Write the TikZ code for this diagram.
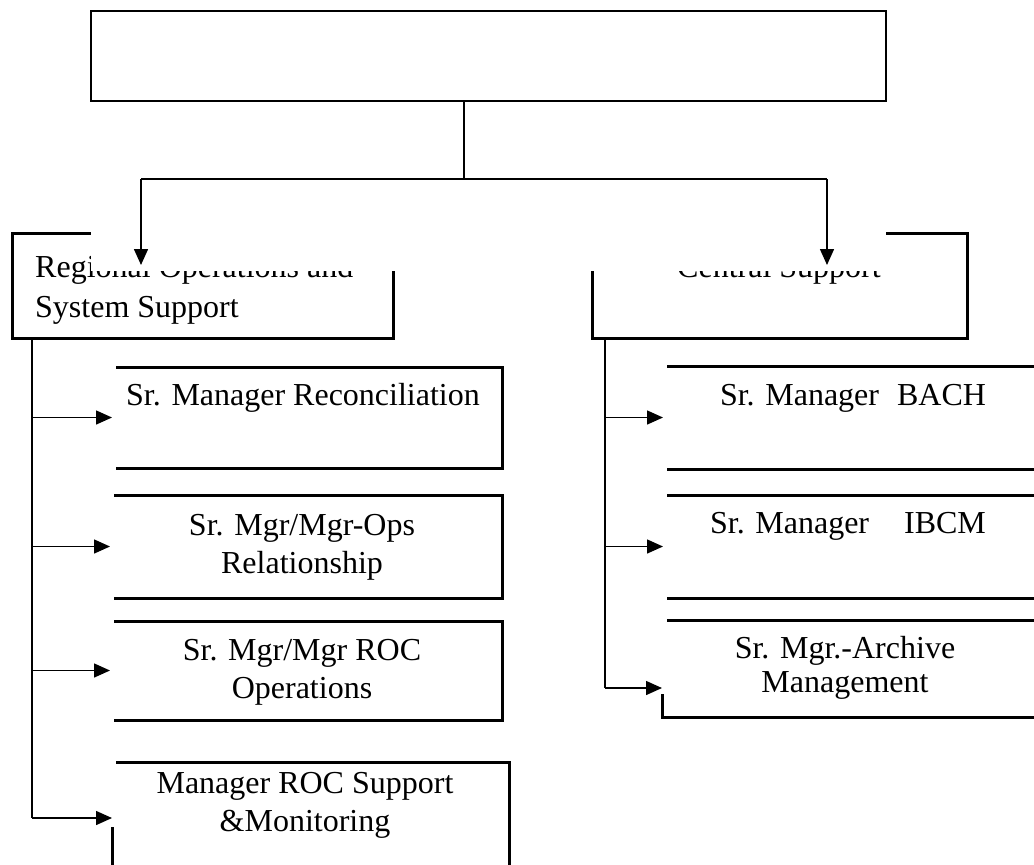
\documentclass[tikz,border=0pt]{standalone}
\usepackage{fontspec}
\setmainfont{Liberation Serif}
\usetikzlibrary{arrows.meta}
\begin{document}
\begin{tikzpicture}[x=1pt,y=-1pt,
  boxshape/.style={rectangle,inner sep=0pt,outer sep=0pt,draw=none},
  border/.style={line width=3pt,line cap=rect},
  topborder/.style={line width=2pt},
  conn/.style={line width=1.5pt},
  arr/.style={line width=1.5pt,-{Triangle[length=16pt,width=14pt]}},
  lbl/.style={inner sep=0pt,font=\fontsize{32}{38}\selectfont,anchor=base},
  mask/.style={fill=white,draw=none}]
\useasboundingbox (0,0) rectangle (1034,865);
\clip (0,0) rectangle (1034,865);

% boxes (invisible shapes; borders drawn partially as in the reference)
\node[boxshape,minimum width=795pt,minimum height=90pt] (top) at (488.5,56) {};
\node[boxshape,minimum width=381pt,minimum height=105pt] (reg) at (202.5,285.5) {};
\node[boxshape,minimum width=375pt,minimum height=105pt] (cen) at (779.5,285.5) {};
\node[boxshape,minimum width=385pt,minimum height=101pt] (rec) at (309.5,417.5) {};
\node[boxshape,minimum width=387pt,minimum height=103pt] (ops) at (308.5,546.5) {};
\node[boxshape,minimum width=387pt,minimum height=99pt] (roc) at (308.5,670.5) {};
\node[boxshape,minimum width=397pt,minimum height=112pt] (mon) at (310.5,818) {};
\node[boxshape,minimum width=382pt,minimum height=103pt] (bach) at (859,417.5) {};
\node[boxshape,minimum width=382pt,minimum height=103pt] (ibcm) at (859,546.5) {};
\node[boxshape,minimum width=388pt,minimum height=97pt] (arch) at (856,668.5) {};

% top box
\draw[topborder] (top.north west) rectangle (top.south east);

% regional box
\draw[border] ([xshift=78pt]reg.north west) -- (reg.north west) -- (reg.south west) -- (reg.south east) -- ([yshift=-39pt]reg.north east);
% central box
\draw[border] ([xshift=-80pt]cen.north east) -- (cen.north east) -- (cen.south east) -- (cen.south west) -- ([yshift=-39pt]cen.north west);

% left children
\draw[border] (rec.north west) -- (rec.north east) -- (rec.south east) -- (rec.south west);
\draw[border] (ops.north west) -- (ops.north east) -- (ops.south east) -- (ops.south west);
\draw[border] (roc.north west) -- (roc.north east) -- (roc.south east) -- (roc.south west);
\draw[border] ([xshift=5pt]mon.north west) -- (mon.north east) -- (mon.south east);
\draw[border] ([yshift=-66pt]mon.north west) -- (mon.south west);

% right children
\draw[border] (bach.north west) -- (bach.north east);
\draw[border] (bach.south west) -- (bach.south east);
\draw[border] (ibcm.north west) -- (ibcm.north east);
\draw[border] (ibcm.south west) -- (ibcm.south east);
\draw[border] ([xshift=6pt]arch.north west) -- (arch.north east);
\draw[border] ([yshift=-75pt]arch.north west) -- (arch.south west) -- (arch.south east);

% texts
\node[lbl,anchor=base west] (regT1) at (35,277) {Regional Operations and};
\node[lbl,anchor=base west] (regT2) at (35,317) {System Support};
\node[lbl] (cenT) at (779,277) {Central Support};
\node[lbl] (recT) at (303,405) {Sr. Manager Reconciliation};
\node[lbl] (opsT1) at (302,535) {Sr. Mgr/Mgr-Ops};
\node[lbl] (opsT2) at (302,573) {Relationship};
\node[lbl] (rocT1) at (302,660) {Sr. Mgr/Mgr ROC};
\node[lbl] (rocT2) at (302,698) {Operations};
\node[lbl] (monT1) at (305,793) {Manager ROC Support};
\node[lbl] (monT2) at (305,831) {\&Monitoring};
\node[lbl] (bachT) at (853,405) {Sr. Manager\hspace{18pt}BACH};
\node[lbl] (ibcmT) at (848,533) {Sr. Manager\hspace{35pt}IBCM};
\node[lbl] (archT1) at (845,658) {Sr. Mgr.-Archive};
\node[lbl] (archT2) at (845,692) {Management};

% masked upper areas (as in the reference)
\fill[mask] (91,228) rectangle (400,271);
\fill[mask] (585,228) rectangle (886,271);

% connectors
\coordinate (j1) at (464,101);
\coordinate (j2) at (464,179);
\coordinate (hl) at (141,179);
\coordinate (hr) at (827,179);
\coordinate (ra) at (141,265);
\coordinate (ca) at (827,265);
\draw[conn] (j1) -- (j2);
\draw[conn] (hl) -- (hr);
\draw[arr] (hl) -- (ra);
\draw[arr] (hr) -- (ca);

\coordinate (lt) at (32,338);
\coordinate (lb) at (32,818);
\draw[conn] (lt) -- (lb);
\draw[arr] (rec.west -| lt) -- ([xshift=-5pt]rec.west);
\draw[arr] (ops.west -| lt) -- ([xshift=-5pt]ops.west);
\draw[arr] (roc.west -| lt) -- ([xshift=-5pt]roc.west);
\draw[arr] (lb) -- (mon.west);

\coordinate (rt) at (605,338);
\coordinate (rb) at (605,688);
\draw[conn] (rt) -- (rb);
\draw[arr] (bach.west -| rt) -- ([xshift=-5pt]bach.west);
\draw[arr] (ibcm.west -| rt) -- ([xshift=-5pt]ibcm.west);
\draw[arr] (rb) -- (rb -| arch.west);
\end{tikzpicture}
\end{document}
